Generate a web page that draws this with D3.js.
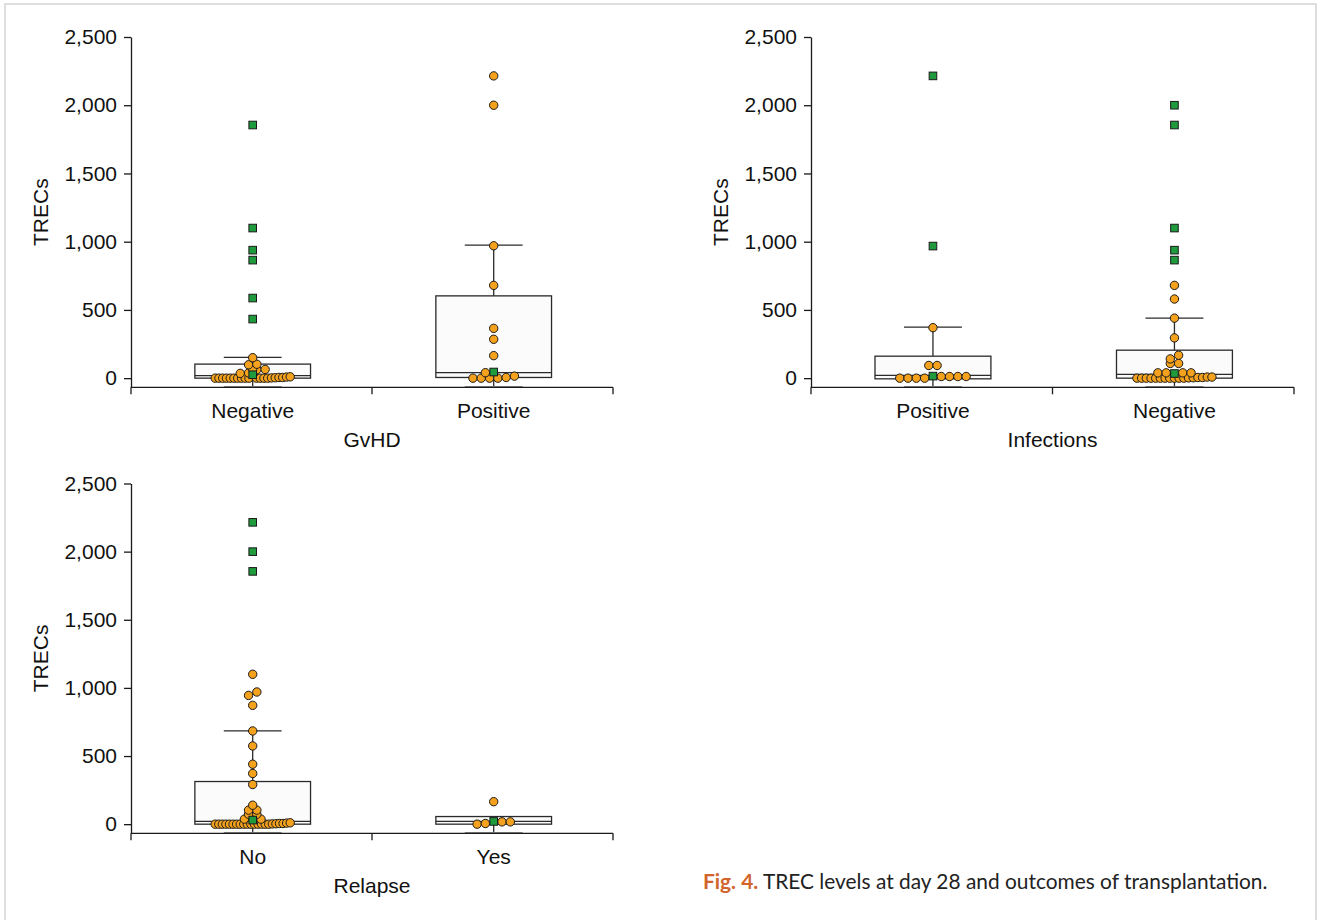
<!DOCTYPE html>
<html><head><meta charset="utf-8">
<script src="https://cdn.jsdelivr.net/npm/d3@7"></script>
<style>body{margin:0;background:#fff;} svg{display:block;}</style>
</head><body>
<svg id="chart" width="1322" height="920"></svg>
<script>
// ---------- data ----------
const yTicks = [0, 500, 1000, 1500, 2000, 2500];
const yLabel = "TRECs";

const gvhdCats = ["Negative", "Positive"];
const gvhdCircles = [
  [150, 102, 98, 66, 64, 62, 38, 35, 0,0,0,0,0,0,0,0,0,0,0,0,0,0, 2, 3, 5, 5, 8, 10],
  [2215, 2000, 970, 680, 365, 285, 165, 40, 0, 0, 0, 0, 5, 15]
];
const gvhdSquares = [[1855, 1100, 938, 865, 587, 433, 25], [45]];
const gvhdQ1 = [0, 5];
const gvhdMedian = [18, 40];
const gvhdQ3 = [103, 603];
const gvhdLow = [-62, -62];
const gvhdHigh = [152, 975];

const infCats = ["Positive", "Negative"];
const infCircles = [
  [370, 93, 93, 0, 0, 0, 0, 12, 12, 12, 12],
  [680, 580, 440, 295, 168, 141, 108, 108, 39, 39, 39, 39, 0,0,0,0,0,0,0,0,0,0,0, 2, 3, 5, 5, 8, 8]
];
const infSquares = [[2215, 968, 15], [2000, 1855, 1100, 938, 865, 34]];
const infQ1 = [-5, 0];
const infMedian = [20, 28];
const infQ3 = [161, 205];
const infLow = [-62, -62];
const infHigh = [374, 440];

const relCats = ["No", "Yes"];
const relCircles = [
  [1100, 970, 945, 872, 684, 574, 440, 372, 291, 139, 103, 103, 73, 73, 37, 37,
   0,0,0,0,0,0,0,0,0,0,0,0,0,0,0,0, 2, 3, 5, 5, 8, 10],
  [165, 17, 17, 5, 0]
];
const relSquares = [[2215, 2000, 1855, 30], [20]];
const relQ1 = [0, 0];
const relMedian = [20, 20];
const relQ3 = [313, 56];
const relLow = [-62, -62];
const relHigh = [684, null];

const captionLead = "Fig. 4.";
const captionText = " TREC levels at day 28 and outcomes of transplantation.";

// ---------- layout ----------
const panels = [
  {title: "GvHD", cats: gvhdCats, circles: gvhdCircles, squares: gvhdSquares,
   q1: gvhdQ1, med: gvhdMedian, q3: gvhdQ3, lo: gvhdLow, hi: gvhdHigh,
   x0: 131, x1: 613, yTop: 37, yBottom: 387.3},
  {title: "Infections", cats: infCats, circles: infCircles, squares: infSquares,
   q1: infQ1, med: infMedian, q3: infQ3, lo: infLow, hi: infHigh,
   x0: 811, x1: 1294, yTop: 37, yBottom: 387.3},
  {title: "Relapse", cats: relCats, circles: relCircles, squares: relSquares,
   q1: relQ1, med: relMedian, q3: relQ3, lo: relLow, hi: relHigh,
   x0: 131, x1: 613, yTop: 483.5, yBottom: 833.3}
];

const FONT = "'Liberation Sans', Arial, Helvetica, sans-serif";
const FS = 21;
const ORANGE = "#f4a21d", GREEN = "#1f9a3d", INK = "#1a1a1a", BOXC = "#2a2a2a";

const svg = d3.select("#chart");
svg.append("rect").attr("x", 5).attr("y", 4).attr("width", 1311).attr("height", 1000)
  .attr("fill", "none").attr("stroke", "#dedede").attr("stroke-width", 2);

function layoutPoints(circles, squares, y, cx) {
  const pts = circles.map(v => ({v, sq: false})).concat(squares.map(v => ({v, sq: true})));
  pts.sort((a, b) => a.v - b.v || (a.sq ? 1 : -1));
  const rows = [];
  let cur = null;
  pts.forEach(p => {
    p.py = y(p.v);
    if (cur && Math.abs(cur.y0 - p.py) <= 4) cur.items.push(p);
    else { cur = {y0: p.py, items: [p]}; rows.push(cur); }
  });
  rows.forEach(r => {
    const n = r.items.length;
    const s = n > 1 ? Math.min(8.3, 75 / (n - 1)) : 0;
    const sqIdx = r.items.findIndex(p => p.sq);
    if (sqIdx >= 0) {
      const sq = r.items[sqIdx];
      sq.px = cx;
      const others = r.items.filter((p, i) => i !== sqIdx);
      const slots = [];
      for (let k = 1; slots.length < others.length; k++) {
        slots.push(-k);
        if (slots.length < others.length) slots.push(k);
      }
      slots.sort((a, b) => a - b);
      others.forEach((p, i) => { p.px = cx + slots[i] * s; });
    } else {
      r.items.forEach((p, i) => { p.px = cx + (i - (n - 1) / 2) * s; });
    }
  });
  return pts;
}

panels.forEach(P => {
  const g = svg.append("g");
  const y = d3.scaleLinear().domain([-67, 2500]).range([P.yBottom, P.yTop]);
  const x = d3.scaleBand().domain(P.cats).range([P.x0, P.x1]).padding(0);
  const bw = x.bandwidth();
  const boxW = bw * 0.48, capW = bw * 0.24;
  const ctr = c => x(c) + bw / 2 + 1.2;

  // y axis
  const ya = g.append("g").attr("transform", `translate(${P.x0},0)`)
    .call(d3.axisLeft(y).tickValues(yTicks).tickFormat(d3.format(",")).tickSize(7).tickPadding(7).tickSizeOuter(0));
  ya.attr("font-family", FONT).attr("font-size", FS);
  ya.selectAll("text").attr("fill", "#111");
  ya.selectAll("line").attr("stroke", INK).attr("stroke-width", 1.3);
  ya.select(".domain").attr("stroke", INK).attr("stroke-width", 1.3);

  // boxes
  P.cats.forEach((c, i) => {
    const cx = ctr(c);
    const bg = g.append("g");
    bg.append("line").attr("x1", cx).attr("x2", cx).attr("y1", y(P.q1[i])).attr("y2", y(P.lo[i]))
      .attr("stroke", BOXC).attr("stroke-width", 1.3);
    bg.append("line").attr("x1", cx - capW / 2).attr("x2", cx + capW / 2).attr("y1", y(P.lo[i])).attr("y2", y(P.lo[i]))
      .attr("stroke", "#888").attr("stroke-width", 1.3);
    if (P.hi[i] != null) {
      bg.append("line").attr("x1", cx).attr("x2", cx).attr("y1", y(P.q3[i])).attr("y2", y(P.hi[i]))
        .attr("stroke", BOXC).attr("stroke-width", 1.3);
      bg.append("line").attr("x1", cx - capW / 2).attr("x2", cx + capW / 2).attr("y1", y(P.hi[i])).attr("y2", y(P.hi[i]))
        .attr("stroke", BOXC).attr("stroke-width", 1.3);
    }
    bg.append("rect").attr("x", cx - boxW / 2).attr("width", boxW)
      .attr("y", y(P.q3[i])).attr("height", y(P.q1[i]) - y(P.q3[i]))
      .attr("fill", "#fbfbfb").attr("stroke", BOXC).attr("stroke-width", 1.3);
    bg.append("line").attr("x1", cx - boxW / 2).attr("x2", cx + boxW / 2).attr("y1", y(P.med[i])).attr("y2", y(P.med[i]))
      .attr("stroke", BOXC).attr("stroke-width", 1.3);

    const pts = layoutPoints(P.circles[i], P.squares[i], y, cx);
    bg.selectAll("circle.pt").data(pts.filter(p => !p.sq)).join("circle")
      .attr("class", "pt").attr("cx", d => d.px).attr("cy", d => d.py).attr("r", 4.2)
      .attr("fill", ORANGE).attr("stroke", INK).attr("stroke-width", 1);
    bg.selectAll("rect.sq").data(pts.filter(p => p.sq)).join("rect")
      .attr("class", "sq").attr("x", d => d.px - 3.8).attr("y", d => d.py - 3.8)
      .attr("width", 7.6).attr("height", 7.6)
      .attr("fill", GREEN).attr("stroke", INK).attr("stroke-width", 1);
  });

  // x axis
  g.append("line").attr("x1", P.x0).attr("x2", P.x1).attr("y1", P.yBottom).attr("y2", P.yBottom)
    .attr("stroke", INK).attr("stroke-width", 1.3);
  const bounds = P.cats.map(c => x(c)).concat([P.x1]);
  g.selectAll("line.xt").data(bounds).join("line").attr("class", "xt")
    .attr("x1", d => d).attr("x2", d => d).attr("y1", P.yBottom).attr("y2", P.yBottom + 7)
    .attr("stroke", INK).attr("stroke-width", 1.3);
  g.selectAll("text.xl").data(P.cats).join("text").attr("class", "xl")
    .attr("x", d => ctr(d)).attr("y", P.yBottom + 31)
    .attr("text-anchor", "middle").attr("font-family", FONT).attr("font-size", FS).attr("fill", "#111")
    .text(d => d);
  g.append("text").attr("x", (P.x0 + P.x1) / 2).attr("y", P.yBottom + 60)
    .attr("text-anchor", "middle").attr("font-family", FONT).attr("font-size", FS).attr("fill", "#111")
    .text(P.title);
  g.append("text").attr("transform", `translate(${P.x0 - 83.5},${(P.yTop + P.yBottom) / 2}) rotate(-90)`)
    .attr("text-anchor", "middle").attr("font-family", FONT).attr("font-size", FS).attr("fill", "#111")
    .text(yLabel);
});

// caption
const cap = svg.append("text").attr("x", 703).attr("y", 889)
  .attr("font-family", "Lato, 'Open Sans', sans-serif").attr("font-size", 20).attr("fill", "#222");
cap.append("tspan").attr("font-weight", "bold").attr("fill", "#d2642c").text(captionLead);
cap.append("tspan").text(captionText);
const w = cap.node().getComputedTextLength();
cap.attr("font-size", 20 * 565 / w);
</script>
</body></html>
